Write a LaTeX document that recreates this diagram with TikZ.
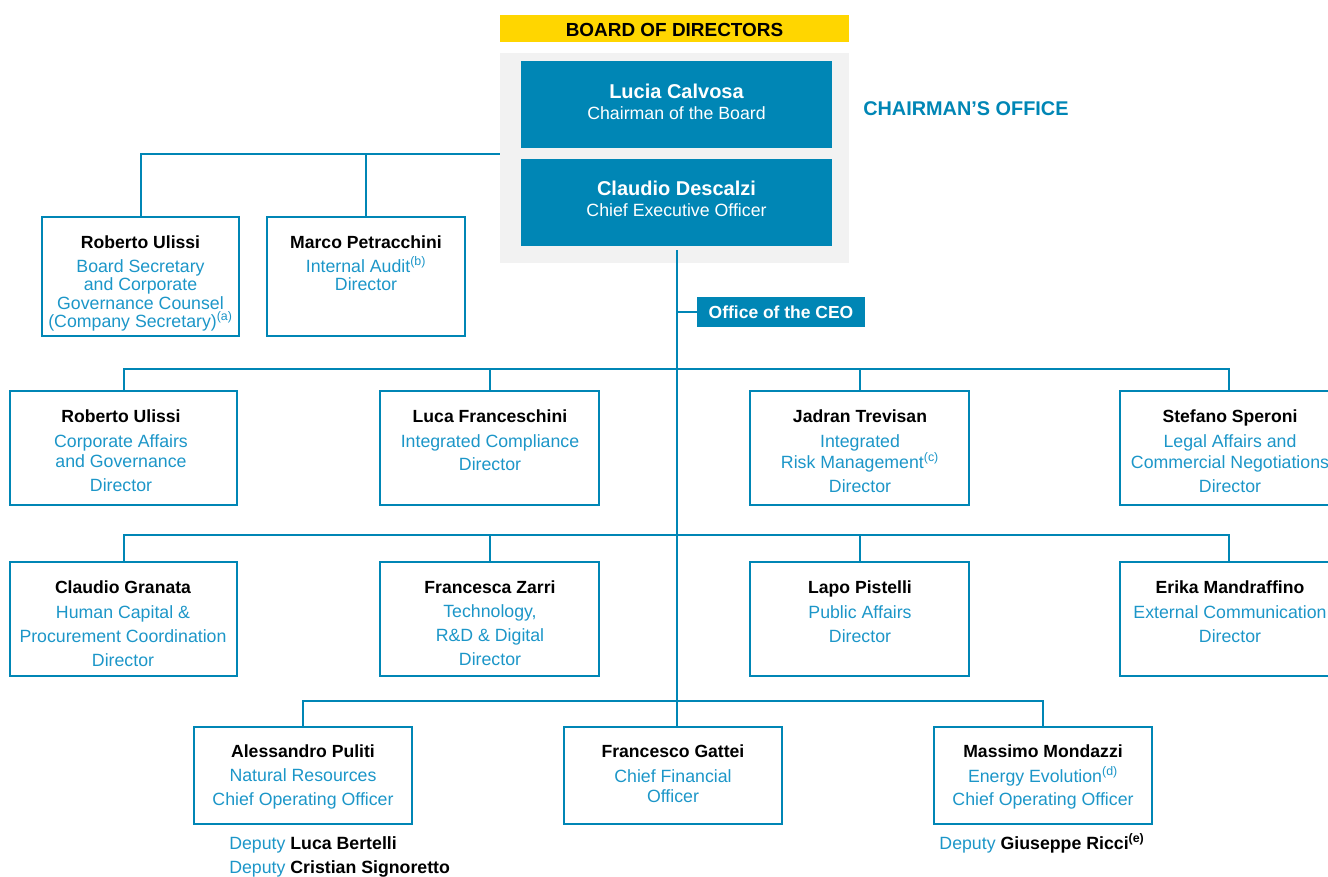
\documentclass[tikz,border=0pt]{standalone}
\usepackage{fontspec}
\setmainfont{Liberation Sans}
\usetikzlibrary{fit,calc}
\definecolor{eblue}{RGB}{0,134,181}
\definecolor{tblue}{RGB}{28,150,200}
\definecolor{eyel}{RGB}{255,214,0}
\definecolor{egrey}{RGB}{242,242,242}
\begin{document}
\begin{tikzpicture}[x=0.75pt,y=-0.75pt,
 ebox/.style={draw=eblue,line width=1.5pt,inner sep=0pt},
 fbox/.style={fill=eblue,inner sep=0pt},
 conn/.style={eblue,line width=1.5pt},
 nm/.style={anchor=base,inner sep=0pt,font=\fontsize{13.2}{16}\selectfont\bfseries},
 rl/.style={anchor=base,inner sep=0pt,font=\fontsize{13.3}{16}\selectfont,text=tblue},
 wn/.style={anchor=base,inner sep=0pt,text=white,font=\fontsize{15}{18}\selectfont\bfseries},
 wr/.style={anchor=base,inner sep=0pt,text=white,font=\fontsize{13.3}{16}\selectfont}]
\useasboundingbox (0,0) rectangle (1328,876);
% top
\node[fit={(500,15)(849,42)},inner sep=0pt,fill=eyel] (bod) {};
\node[anchor=base,inner sep=0pt,font=\fontsize{14.2}{16}\selectfont\bfseries] (bodt) at (674.5,36.5) {BOARD OF DIRECTORS};
\node[fit={(500,53)(849,263)},inner sep=0pt,fill=egrey] (board) {};
\node[fit={(521,61)(832,148)},fbox] (chair) {};
\node[fit={(521,159)(832,246)},fbox] (ceo) {};
\node[wn] (chairn) at (676.5,98) {Lucia Calvosa};
\node[wr] (chairr) at (676.5,119) {Chairman of the Board};
\node[wn] (ceon) at (676.5,195) {Claudio Descalzi};
\node[wr] (ceor) at (676.5,216.5) {Chief Executive Officer};
\node[anchor=base west,inner sep=0pt,text=eblue,font=\fontsize{14.9}{18}\selectfont\bfseries] (co) at (863,115) {CHAIRMAN’S OFFICE};
\node[fit={(697,297)(865,327)},fbox] (off) {};
\node[anchor=base,inner sep=0pt,text=white,font=\fontsize{13.1}{16}\selectfont\bfseries] (offt) at (781,318) {Office of the CEO};
% staff of board
\node[fit={(42,217)(239,336)},ebox] (rs) {};
\node[nm] (rs1) at (140.5,248) {Roberto Ulissi};
\node[rl] (rs2) at (140.5,272) {Board Secretary};
\node[rl] (rs3) at (140.5,290.5) {and Corporate};
\node[rl] (rs4) at (140.5,309) {Governance Counsel};
\node[rl] (rs5) at (140.5,327.5) {(Company Secretary)\textsuperscript{(a)}};
\node[fit={(267,217)(465,336)},ebox] (ma) {};
\node[nm] (ma1) at (366,248) {Marco Petracchini};
\node[rl] (ma2) at (366,272) {Internal Audit\textsuperscript{(b)}};
\node[rl] (ma3) at (366,290) {Director};
% row 1
\node[fit={(10,391)(237,505)},ebox] (r1a) {};
\node[nm] (r1a1) at (121,422) {Roberto Ulissi};
\node[rl] (r1a2) at (121,447) {Corporate Affairs};
\node[rl] (r1a3) at (121,467) {and Governance};
\node[rl] (r1a4) at (121,491) {Director};
\node[fit={(380,391)(599,505)},ebox] (r1b) {};
\node[nm] (r1b1) at (490,422) {Luca Franceschini};
\node[rl] (r1b2) at (490,447) {Integrated Compliance};
\node[rl] (r1b3) at (490,470) {Director};
\node[fit={(750,391)(969,505)},ebox] (r1c) {};
\node[nm] (r1c1) at (860,422) {Jadran Trevisan};
\node[rl] (r1c2) at (860,447) {Integrated};
\node[rl] (r1c3) at (860,468) {Risk Management\textsuperscript{(c)}};
\node[rl] (r1c4) at (860,492) {Director};
\node[fit={(1120,391)(1338,505)},ebox] (r1d) {};
\node[nm] (r1d1) at (1230,422) {Stefano Speroni};
\node[rl] (r1d2) at (1230,447) {Legal Affairs and};
\node[rl] (r1d3) at (1230,468) {Commercial Negotiations};
\node[rl] (r1d4) at (1230,492) {Director};
% row 2
\node[fit={(10,562)(237,676)},ebox] (r2a) {};
\node[nm] (r2a1) at (123,593) {Claudio Granata};
\node[rl] (r2a2) at (123,618) {Human Capital \&};
\node[rl] (r2a3) at (123,642) {Procurement Coordination};
\node[rl] (r2a4) at (123,666) {Director};
\node[fit={(380,562)(599,676)},ebox] (r2b) {};
\node[nm] (r2b1) at (490,593) {Francesca Zarri};
\node[rl] (r2b2) at (490,617) {Technology,};
\node[rl] (r2b3) at (490,641) {R\&D \& Digital};
\node[rl] (r2b4) at (490,665) {Director};
\node[fit={(750,562)(969,676)},ebox] (r2c) {};
\node[nm] (r2c1) at (860,593) {Lapo Pistelli};
\node[rl] (r2c2) at (860,618) {Public Affairs};
\node[rl] (r2c3) at (860,642) {Director};
\node[fit={(1120,562)(1338,676)},ebox] (r2d) {};
\node[nm] (r2d1) at (1230,593) {Erika Mandraffino};
\node[rl] (r2d2) at (1230,618) {External Communication};
\node[rl] (r2d3) at (1230,642) {Director};
% row 3
\node[fit={(194,727)(412,824)},ebox] (r3a) {};
\node[nm] (r3a1) at (303,757) {Alessandro Puliti};
\node[rl] (r3a2) at (303,781) {Natural Resources};
\node[rl] (r3a3) at (303,805) {Chief Operating Officer};
\node[fit={(564,727)(782,824)},ebox] (r3b) {};
\node[nm] (r3b1) at (673,757) {Francesco Gattei};
\node[rl] (r3b2) at (673,782) {Chief Financial};
\node[rl] (r3b3) at (673,802) {Officer};
\node[fit={(934,727)(1152,824)},ebox] (r3c) {};
\node[nm] (r3c1) at (1043,757) {Massimo Mondazzi};
\node[rl] (r3c2) at (1043,782) {Energy Evolution\textsuperscript{(d)}};
\node[rl] (r3c3) at (1043,805) {Chief Operating Officer};
% deputies
\node[rl,anchor=base west] (dp1) at (229,849) {Deputy \textcolor{black}{\bfseries Luca Bertelli}};
\node[rl,anchor=base west] (dp2) at (229,873) {Deputy \textcolor{black}{\bfseries Cristian Signoretto}};
\node[rl] (dp3) at (1042,849) {Deputy \textcolor{black}{\bfseries Giuseppe Ricci\textsuperscript{(e)}}};
% connectors
\coordinate (hubL) at (141,154);
\draw[conn] (board.west |- hubL) -| (rs.north);
\draw[conn] (ma.north) -- (ma.north |- hubL);
\coordinate (ceoTop) at ($(ceo.south)+(0,4)$);
\draw[conn] (ceoTop) -- (r3b.north -| ceoTop);
\draw[conn] (off.west -| ceoTop) -- (off.west);
\coordinate (b1) at (0,369);
\draw[conn] (r1a.north) |- (r1d.north |- b1) -- (r1d.north);
\draw[conn] (r1b.north) -- (r1b.north |- b1);
\draw[conn] (r1c.north) -- (r1c.north |- b1);
\coordinate (b2) at (0,535);
\draw[conn] (r2a.north) |- (r2d.north |- b2) -- (r2d.north);
\draw[conn] (r2b.north) -- (r2b.north |- b2);
\draw[conn] (r2c.north) -- (r2c.north |- b2);
\coordinate (b3) at (0,701);
\draw[conn] (r3a.north) |- (r3c.north |- b3) -- (r3c.north);
\end{tikzpicture}
\end{document}
